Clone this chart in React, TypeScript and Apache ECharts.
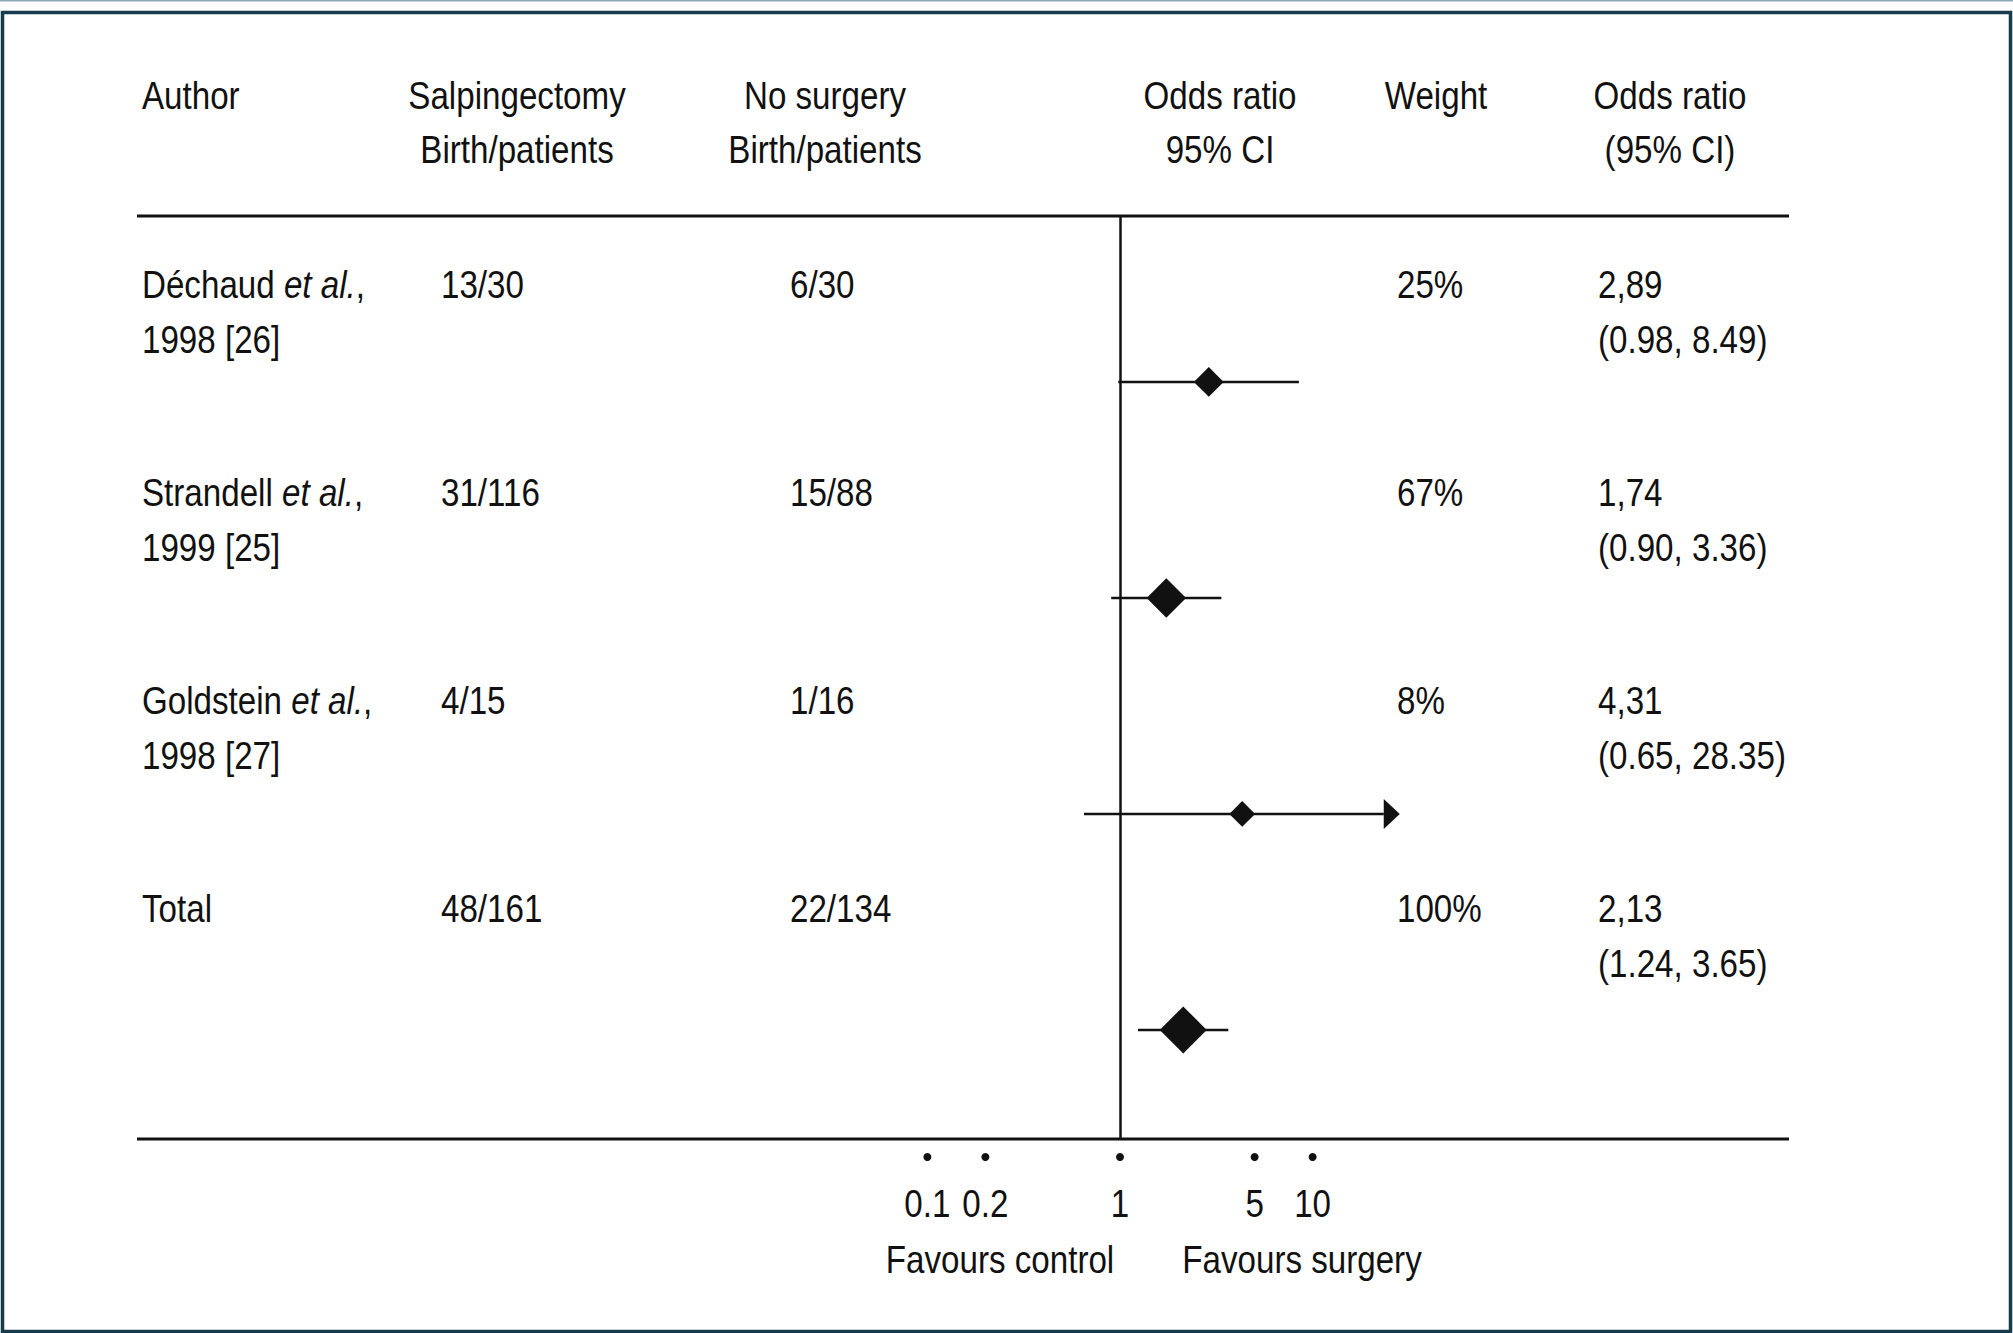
import React, { useEffect, useRef } from "react";
import * as echarts from "echarts";

// ---------- data ----------
const authors = ["Déchaud", "Strandell", "Goldstein", "Total"];
const authorEtAl = [true, true, true, false];
const refYears = ["1998 [26]", "1999 [25]", "1998 [27]", ""];
const salpingectomy = ["13/30", "31/116", "4/15", "48/161"];
const noSurgery = ["6/30", "15/88", "1/16", "22/134"];
const weights = [25, 67, 8, 100];
const oddsRatio = [2.89, 1.74, 4.31, 2.13];
const ciLow = [0.98, 0.9, 0.65, 1.24];
const ciHigh = [8.49, 3.36, 28.35, 3.65];
const tickValues = [0.1, 0.2, 1, 5, 10];
const headerLine1 = ["Author", "Salpingectomy", "No surgery", "Odds ratio", "Weight", "Odds ratio"];
const headerLine2 = ["", "Birth/patients", "Birth/patients", "95% CI", "", "(95% CI)"];
const sideLabels = ["Favours control", "Favours surgery"];

// ---------- layout / style ----------
const W = 2013;
const H = 1333;
const FONT = "'Liberation Sans', Arial, 'DejaVu Sans', sans-serif";
const FS = 39;
const NARROW = 0.85;
const INK = "#111111";
const FRAME = "#173a4c";
const ONE_X = 1120;
const DECADE = 192.6;
const GRID_TOP = 216;
const GRID_H = 923;
const Y_MIN = -0.7685;
const Y_MAX = 3.505;
const TEXT_Y_MIN = -0.332;
const TEXT_Y_MAX = 4.112;
const TICK_ROW = 3.588;
const TICK_LABEL_DY = 47;
const TABLE_LEFT = 137;
const TABLE_RIGHT = 1789;
const colLeft = [142, 441, 790, 1397, 1598];
const headerX = [142, 517, 825, 1220, 1436, 1670];
const HEAD_Y1 = 96;
const HEAD_Y2 = 150;
const LINE2_DY = 55;
const sideX = [1000, 1302];
const SIDE_Y = 1260;

const textStyle = (text: string, align: string, extra: any = {}) => ({
  text,
  fill: INK,
  fontSize: FS,
  fontFamily: FONT,
  align,
  textAlign: align,
  verticalAlign: "middle",
  textVerticalAlign: "middle",
  ...extra,
});

const textEl = (x: number, y: number, text: string, align: string, extra: any = {}) => ({
  type: "text",
  x,
  y,
  scaleX: NARROW,
  style: textStyle(text, align, extra),
});

export default function App() {
  const ref = useRef<HTMLDivElement>(null);

  useEffect(() => {
    if (!ref.current) return;
    const chart = echarts.init(ref.current, null, { renderer: "svg" });

    const rows = authors.map((_, i) => [oddsRatio[i], ciLow[i], ciHigh[i], i, weights[i]]);
    const textRows = authors.map((_, i) => [1, i]);
    const tickRows = tickValues.map((v) => [v, TICK_ROW]);
    const arrowBeyond = tickValues[tickValues.length - 1];

    const graphics: any[] = [];
    graphics.push({
      type: "rect",
      shape: { x: 0, y: 0, width: W, height: 1.5 },
      style: { fill: "#8ea6b4" },
    });
    graphics.push({
      type: "rect",
      shape: { x: 2.5, y: 12.5, width: W - 5, height: H - 14 },
      style: { fill: "none", stroke: FRAME, lineWidth: 3.5 },
    });
    [GRID_TOP, GRID_TOP + GRID_H].forEach((y) =>
      graphics.push({
        type: "line",
        shape: { x1: TABLE_LEFT, y1: y, x2: TABLE_RIGHT, y2: y },
        style: { stroke: INK, lineWidth: 3 },
      })
    );
    headerLine1.forEach((t, i) => graphics.push(textEl(headerX[i], HEAD_Y1, t, i === 0 ? "left" : "center")));
    headerLine2.forEach((t, i) => {
      if (t) graphics.push(textEl(headerX[i], HEAD_Y2, t, "center"));
    });
    sideLabels.forEach((t, i) => graphics.push(textEl(sideX[i], SIDE_Y, t, "center")));

    const option: any = {
      animation: false,
      backgroundColor: "#ffffff",
      grid: { left: ONE_X - DECADE, width: DECADE * 3, top: GRID_TOP, height: GRID_H },
      xAxis: { type: "log", logBase: 10, min: 0.1, max: 100, show: false },
      yAxis: [
        { type: "value", min: Y_MIN, max: Y_MAX, inverse: true, show: false },
        { type: "value", min: TEXT_Y_MIN, max: TEXT_Y_MAX, inverse: true, show: false },
      ],
      graphic: graphics,
      series: [
        {
          type: "custom",
          data: tickRows,
          clip: false,
          renderItem: (params: any, api: any) => {
            const p = api.coord([api.value(0), api.value(1)]);
            return {
              type: "group",
              children: [
                { type: "circle", shape: { cx: p[0], cy: p[1], r: 4 }, style: { fill: INK } },
                textEl(p[0], p[1] + TICK_LABEL_DY, String(tickValues[params.dataIndex]), "center"),
              ],
            };
          },
          markLine: {
            silent: true,
            symbol: "none",
            label: { show: false },
            lineStyle: { color: INK, width: 2.5, type: "solid" },
            data: [{ xAxis: 1 }],
          },
          z: 3,
        },
        {
          type: "custom",
          data: rows,
          clip: false,
          renderItem: (params: any, api: any) => {
            const row = api.value(3);
            const c = api.coord([api.value(0), row]);
            const lo = api.coord([api.value(1), row]);
            const hiVal = api.value(2);
            const hi = api.coord([hiVal, row]);
            const s = (24 + 0.23 * api.value(4)) / 2;
            const children: any[] = [];
            const arrow = hiVal > arrowBeyond;
            const lineEnd = arrow ? hi[0] - 16 : hi[0];
            children.push({
              type: "line",
              shape: { x1: lo[0], y1: lo[1], x2: lineEnd, y2: hi[1] },
              style: { stroke: INK, lineWidth: 2.5 },
            });
            if (arrow) {
              children.push({
                type: "polygon",
                shape: { points: [[hi[0] - 16, hi[1] - 15], [hi[0], hi[1]], [hi[0] - 16, hi[1] + 15]] },
                style: { fill: INK },
              });
            }
            children.push({
              type: "polygon",
              shape: { points: [[c[0] - s, c[1]], [c[0], c[1] - s], [c[0] + s, c[1]], [c[0], c[1] + s]] },
              style: { fill: INK },
            });
            return { type: "group", children };
          },
          z: 4,
        },
        {
          type: "custom",
          yAxisIndex: 1,
          data: textRows,
          clip: false,
          renderItem: (params: any, api: any) => {
            const i = params.dataIndex;
            const y1 = api.coord([api.value(0), api.value(1)])[1];
            const y2 = y1 + LINE2_DY;
            const children: any[] = [];
            if (authorEtAl[i]) {
              children.push(
                textEl(colLeft[0], y1, `{n|${authors[i]} }{i|et al.}{n|,}`, "left", {
                  rich: {
                    n: { fontSize: FS, fontFamily: FONT, fill: INK, color: INK },
                    i: { fontSize: FS, fontFamily: FONT, fontStyle: "italic", fill: INK, color: INK },
                  },
                })
              );
            } else {
              children.push(textEl(colLeft[0], y1, authors[i], "left"));
            }
            if (refYears[i]) children.push(textEl(colLeft[0], y2, refYears[i], "left"));
            children.push(textEl(colLeft[1], y1, salpingectomy[i], "left"));
            children.push(textEl(colLeft[2], y1, noSurgery[i], "left"));
            children.push(textEl(colLeft[3], y1, `${weights[i]}%`, "left"));
            children.push(textEl(colLeft[4], y1, oddsRatio[i].toFixed(2).replace(".", ","), "left"));
            children.push(
              textEl(colLeft[4], y2, `(${ciLow[i].toFixed(2)}, ${ciHigh[i].toFixed(2)})`, "left")
            );
            return { type: "group", children };
          },
          z: 5,
        },
      ],
    };

    chart.setOption(option);
    return () => chart.dispose();
  }, []);

  return (
    <div
      ref={ref}
      style={{ position: "absolute", left: 0, top: 0, width: W, height: H, background: "#ffffff" }}
    />
  );
}
